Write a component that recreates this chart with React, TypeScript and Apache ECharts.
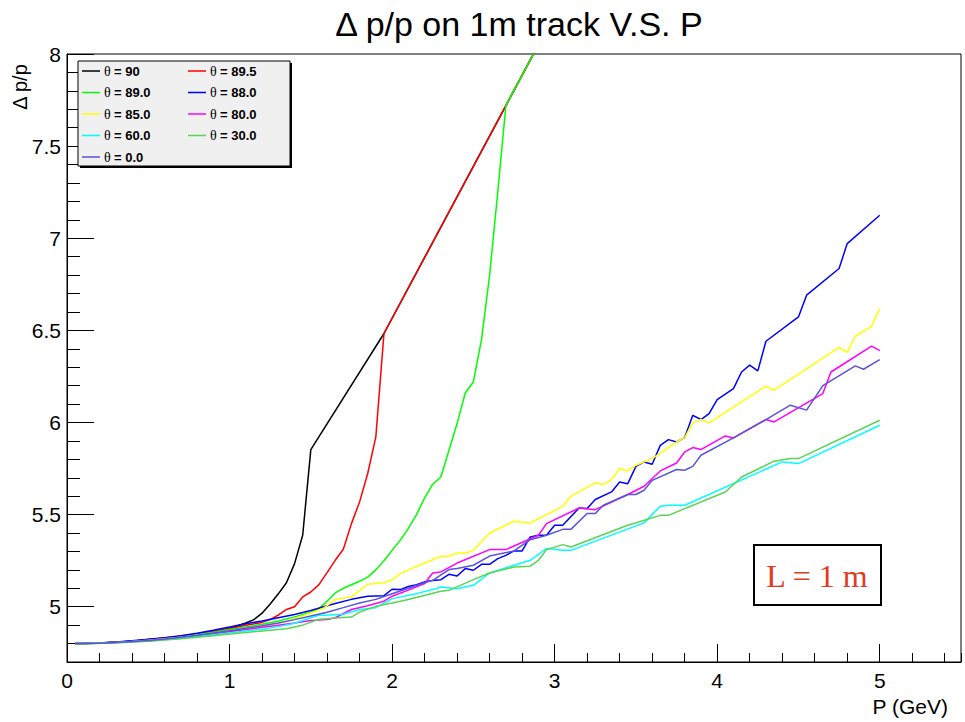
import React, { useEffect, useRef } from "react";
import * as echarts from "echarts";

// ---- data (P in GeV, Δp/p) ----
const theta90: [number, number][] = [
  [0.05, 4.8], [0.1, 4.8], [0.2, 4.803], [0.3, 4.807], [0.4, 4.813], [0.5, 4.822], [0.6, 4.83], [0.7, 4.84],
  [0.8, 4.852], [0.9, 4.866], [1.0, 4.882], [1.1, 4.912], [1.15, 4.93], [1.2, 4.965], [1.25, 5.015], [1.3, 5.07],
  [1.35, 5.13], [1.4, 5.234], [1.45, 5.388], [1.5, 5.853], [1.95, 6.483], [2.7, 7.72], [2.9, 8.05],
];
const theta895: [number, number][] = [
  [0.05, 4.8], [0.1, 4.8], [0.2, 4.803], [0.3, 4.807], [0.4, 4.813], [0.5, 4.822], [0.6, 4.83], [0.7, 4.84],
  [0.8, 4.852], [0.9, 4.866], [1.0, 4.88], [1.1, 4.9], [1.2, 4.915], [1.25, 4.93], [1.3, 4.955], [1.35, 4.985],
  [1.4, 5.0], [1.45, 5.053], [1.5, 5.08], [1.55, 5.12], [1.6, 5.185], [1.65, 5.252], [1.7, 5.312], [1.75, 5.451],
  [1.8, 5.569], [1.85, 5.723], [1.9, 5.922], [1.95, 6.483], [2.7, 7.72], [2.9, 8.05],
];
const theta89: [number, number][] = [
  [0.05, 4.8], [0.1, 4.8], [0.2, 4.803], [0.3, 4.807], [0.4, 4.812], [0.5, 4.82], [0.6, 4.828], [0.7, 4.838],
  [0.8, 4.85], [0.9, 4.862], [1.0, 4.876], [1.1, 4.89], [1.2, 4.905], [1.3, 4.922], [1.4, 4.945], [1.5, 4.97],
  [1.55, 4.99], [1.6, 5.03], [1.65, 5.075], [1.7, 5.1], [1.8, 5.138], [1.85, 5.161], [1.9, 5.2], [1.95, 5.25],
  [2.0, 5.306], [2.05, 5.36], [2.1, 5.425], [2.15, 5.5], [2.2, 5.59], [2.25, 5.665], [2.3, 5.704], [2.35, 5.849],
  [2.4, 5.994], [2.45, 6.16], [2.5, 6.22], [2.55, 6.45], [2.6, 6.8], [2.65, 7.25], [2.7, 7.72], [2.9, 8.05],
];
const theta88: [number, number][] = [
  [0.05, 4.8], [0.1, 4.8], [0.2, 4.803], [0.3, 4.808], [0.4, 4.815], [0.5, 4.823], [0.6, 4.832], [0.7, 4.843],
  [0.8, 4.856], [0.9, 4.872], [1.0, 4.89], [1.1, 4.908], [1.2, 4.922], [1.3, 4.94], [1.4, 4.958], [1.5, 4.98],
  [1.6, 5.005], [1.65, 5.017], [1.75, 5.04], [1.85, 5.057], [1.95, 5.06], [2.0, 5.095], [2.05, 5.093], [2.1, 5.11],
  [2.15, 5.12], [2.2, 5.135], [2.25, 5.143], [2.3, 5.147], [2.35, 5.176], [2.4, 5.167], [2.45, 5.207], [2.5, 5.198],
  [2.55, 5.23], [2.6, 5.23], [2.65, 5.261], [2.7, 5.279], [2.75, 5.303], [2.8, 5.303], [2.85, 5.379], [2.9, 5.388],
  [2.95, 5.388], [3.0, 5.442], [3.05, 5.442], [3.15, 5.536], [3.2, 5.533], [3.25, 5.582], [3.35, 5.623], [3.4, 5.677],
  [3.45, 5.668], [3.5, 5.762], [3.55, 5.786], [3.6, 5.773], [3.65, 5.876], [3.7, 5.907], [3.75, 5.894], [3.8, 5.918],
  [3.85, 6.039], [3.9, 6.016], [3.95, 6.048], [4.0, 6.124], [4.1, 6.184], [4.15, 6.274], [4.2, 6.311], [4.25, 6.28],
  [4.3, 6.441], [4.5, 6.573], [4.55, 6.691], [4.75, 6.836], [4.8, 6.971], [5.0, 7.125],
];
const theta85: [number, number][] = [
  [0.05, 4.8], [0.1, 4.8], [0.2, 4.802], [0.3, 4.806], [0.4, 4.811], [0.5, 4.818], [0.6, 4.826], [0.7, 4.835],
  [0.8, 4.845], [0.9, 4.856], [1.0, 4.868], [1.1, 4.88], [1.2, 4.895], [1.3, 4.91], [1.37, 4.926], [1.5, 4.966],
  [1.575, 4.99], [1.65, 5.039], [1.75, 5.053], [1.85, 5.122], [1.95, 5.13], [2.0, 5.145], [2.05, 5.18], [2.1, 5.2],
  [2.2, 5.237], [2.3, 5.274], [2.35, 5.274], [2.4, 5.292], [2.45, 5.292], [2.5, 5.306], [2.6, 5.4], [2.75, 5.464],
  [2.85, 5.455], [3.05, 5.545], [3.1, 5.6], [3.25, 5.672], [3.3, 5.663], [3.35, 5.69], [3.4, 5.75], [3.45, 5.737],
  [3.5, 5.768], [3.6, 5.804], [3.75, 5.894], [3.8, 5.918], [3.85, 5.998], [3.9, 6.016], [3.95, 5.998], [4.3, 6.197],
  [4.35, 6.175], [4.75, 6.407], [4.8, 6.381], [4.85, 6.468], [4.95, 6.522], [5.0, 6.619],
];
const theta80: [number, number][] = [
  [0.05, 4.8], [0.1, 4.8], [0.2, 4.802], [0.3, 4.806], [0.4, 4.81], [0.5, 4.816], [0.6, 4.823], [0.7, 4.832],
  [0.8, 4.842], [0.9, 4.852], [1.0, 4.864], [1.1, 4.876], [1.2, 4.888], [1.3, 4.9], [1.4, 4.912], [1.5, 4.925],
  [1.6, 4.93], [1.65, 4.94], [1.75, 4.985], [1.85, 5.005], [1.95, 5.03], [2.0, 5.057], [2.1, 5.09], [2.2, 5.126],
  [2.25, 5.183], [2.3, 5.189], [2.4, 5.237], [2.6, 5.31], [2.7, 5.31], [2.9, 5.388], [2.95, 5.451], [3.15, 5.536],
  [3.25, 5.527], [3.45, 5.609], [3.55, 5.654], [3.65, 5.737], [3.75, 5.78], [3.8, 5.84], [3.85, 5.864], [3.9, 5.853],
  [4.05, 5.927], [4.1, 5.916], [4.3, 6.016], [4.35, 6.003], [4.65, 6.157], [4.7, 6.274], [4.95, 6.414], [5.0, 6.39],
];
const theta60: [number, number][] = [
  [0.05, 4.8], [0.1, 4.8], [0.2, 4.802], [0.3, 4.805], [0.4, 4.81], [0.5, 4.815], [0.6, 4.821], [0.7, 4.829],
  [0.8, 4.838], [0.9, 4.848], [1.0, 4.858], [1.1, 4.868], [1.2, 4.878], [1.3, 4.892], [1.4, 4.91], [1.5, 4.94],
  [1.55, 4.953], [1.7, 4.959], [1.8, 4.985], [1.9, 4.995], [2.0, 5.044], [2.15, 5.071], [2.25, 5.093], [2.3, 5.107],
  [2.4, 5.098], [2.5, 5.116], [2.6, 5.183], [2.75, 5.225], [2.85, 5.252], [2.95, 5.316], [3.05, 5.306], [3.1, 5.306],
  [3.55, 5.455], [3.65, 5.545], [3.7, 5.551], [3.8, 5.551], [4.4, 5.786], [4.5, 5.777], [5.0, 5.985],
];
const theta30: [number, number][] = [
  [0.05, 4.8], [0.1, 4.8], [0.2, 4.802], [0.3, 4.804], [0.4, 4.808], [0.5, 4.813], [0.6, 4.819], [0.7, 4.826],
  [0.8, 4.834], [0.9, 4.843], [1.0, 4.852], [1.1, 4.86], [1.2, 4.868], [1.3, 4.876], [1.35, 4.881], [1.45, 4.9],
  [1.55, 4.932], [1.65, 4.939], [1.75, 4.944], [1.8, 4.971], [1.9, 5.002], [2.0, 5.02], [2.1, 5.039], [2.3, 5.084],
  [2.35, 5.089], [2.5, 5.147], [2.6, 5.183], [2.75, 5.216], [2.85, 5.22], [2.9, 5.252], [2.95, 5.31], [3.05, 5.337],
  [3.1, 5.324], [3.45, 5.442], [3.65, 5.496], [3.7, 5.496], [4.05, 5.623], [4.15, 5.704], [4.35, 5.79], [4.45, 5.804],
  [4.5, 5.804], [5.0, 6.012],
];
const theta0: [number, number][] = [
  [0.05, 4.8], [0.1, 4.8], [0.2, 4.802], [0.3, 4.806], [0.4, 4.811], [0.5, 4.817], [0.6, 4.825], [0.7, 4.834],
  [0.8, 4.845], [0.9, 4.857], [1.0, 4.87], [1.1, 4.883], [1.2, 4.897], [1.3, 4.912], [1.4, 4.93], [1.5, 4.95],
  [1.6, 4.97], [1.7, 4.995], [1.8, 5.02], [1.9, 5.04], [2.0, 5.07], [2.1, 5.1], [2.2, 5.13], [2.25, 5.143],
  [2.35, 5.202], [2.4, 5.207], [2.5, 5.225], [2.6, 5.275], [2.75, 5.303], [2.85, 5.364], [2.95, 5.388], [3.05, 5.42],
  [3.1, 5.42], [3.2, 5.506], [3.25, 5.506], [3.3, 5.551], [3.45, 5.609], [3.5, 5.609], [3.55, 5.632], [3.6, 5.686],
  [3.75, 5.745], [3.8, 5.741], [3.85, 5.762], [3.9, 5.822], [4.1, 5.916], [4.3, 6.016], [4.45, 6.094], [4.55, 6.067],
  [4.65, 6.2], [4.85, 6.307], [4.9, 6.289], [5.0, 6.341],
];

const seriesData = [theta90, theta895, theta89, theta88, theta85, theta80, theta60, theta30, theta0];
const thetaLabels = ["90", "89.5", "89.0", "88.0", "85.0", "80.0", "60.0", "30.0", "0.0"];
const seriesColors = ["#000000", "#ff0000", "#00ff00", "#0000ff", "#ffff00", "#ff00ff", "#00ffff", "#59d454", "#5954d9"];

const xMajorTicks = [0, 1, 2, 3, 4, 5];
const yMajorTicks = [5, 5.5, 6, 6.5, 7, 7.5, 8];

const title = "Δ p/p on 1m track V.S. P";
const xName = "P (GeV)";
const yName = "Δ p/p";
const noteText = "L = 1 m";

const SANS = "'Liberation Sans', Arial, Helvetica, sans-serif";
const SERIF = "'Liberation Serif', 'Times New Roman', serif";

export default function App() {
  const ref = useRef<HTMLDivElement>(null);
  useEffect(() => {
    if (!ref.current) return;
    const chart = echarts.init(ref.current, null, { renderer: "svg" });

    const gridL = 67, gridR = 4, gridT = 54, gridB = 60;

    const legendX = 78, legendY = 61, legendW = 212, legendH = 105;
    const legendEls: any[] = [
      { type: "rect", shape: { x: legendX + 2, y: legendY + 2, width: legendW, height: legendH }, style: { fill: "#000" }, z: 100 },
      { type: "rect", shape: { x: legendX, y: legendY, width: legendW, height: legendH }, style: { fill: "#f0f0f0", stroke: "#000", lineWidth: 1 }, z: 101 },
    ];
    thetaLabels.forEach((lab, i) => {
      const col = i % 2;
      const row = Math.floor(i / 2);
      const lx = col === 0 ? 82 : 188;
      const cy = 71 + row * 21.5;
      legendEls.push({
        type: "line",
        shape: { x1: lx, y1: cy, x2: lx + 18, y2: cy },
        style: { stroke: seriesColors[i], lineWidth: 1.5 },
        z: 102,
      });
      legendEls.push({
        type: "text",
        x: lx + 22,
        y: cy,
        style: {
          text: `{t|θ} {b|= ${lab}}`,
          verticalAlign: "middle",
          align: "left",
          rich: {
            t: { fontFamily: SERIF, fontSize: 14, fill: "#000" },
            b: { fontFamily: SANS, fontSize: 13, fontWeight: "bold", fill: "#000" },
          },
        },
        z: 102,
      });
    });

    const option: any = {
      animation: false,
      backgroundColor: "#ffffff",
      title: {
        text: title,
        left: 514,
        top: 2,
        textAlign: "center",
        textStyle: { fontFamily: SANS, fontSize: 34, fontWeight: "normal", color: "#000" },
      },
      grid: {
        left: gridL, right: gridR, top: gridT, bottom: gridB,
        show: true, borderColor: "#000", borderWidth: 1, backgroundColor: "transparent",
      },
      xAxis: [
        {
          type: "value", min: 0, max: 5.5, interval: 0.2, position: "bottom",
          axisLine: { show: true, lineStyle: { color: "#000", width: 1 } },
          axisTick: { show: true, inside: true, length: 9, lineStyle: { color: "#000" } },
          axisLabel: { show: false },
          splitLine: { show: false },
        },
        {
          type: "value", min: 0, max: 5.5, interval: 1, position: "bottom",
          name: xName, nameLocation: "end", nameGap: 0,
          nameTextStyle: { fontFamily: SANS, fontSize: 21, color: "#000", align: "right", verticalAlign: "top", padding: [34, 13, 0, 0] },
          axisLine: { show: false },
          axisTick: { show: true, inside: true, length: 18, customValues: xMajorTicks, lineStyle: { color: "#000" } },
          axisLabel: { show: true, customValues: xMajorTicks, margin: 8, fontFamily: SANS, fontSize: 21, color: "#000" },
          splitLine: { show: false },
        },
      ],
      yAxis: [
        {
          type: "value", min: 4.7, max: 8, interval: 0.1, position: "left",
          axisLine: { show: true, lineStyle: { color: "#000", width: 1 } },
          axisTick: { show: true, inside: true, length: 13, lineStyle: { color: "#000" } },
          axisLabel: { show: false },
          splitLine: { show: false },
        },
        {
          type: "value", min: 4.7, max: 8, interval: 0.1, position: "left",
          axisLine: { show: false },
          axisTick: { show: true, inside: true, length: 27, customValues: yMajorTicks, lineStyle: { color: "#000" } },
          axisLabel: { show: true, customValues: yMajorTicks, margin: 6, fontFamily: SANS, fontSize: 21, color: "#000", formatter: (v: number) => String(v) },
          splitLine: { show: false },
        },
      ],
      series: seriesData.map((d, i) => ({
        type: "line",
        name: "θ = " + thetaLabels[i],
        data: d,
        xAxisIndex: 0,
        yAxisIndex: 0,
        showSymbol: false,
        symbol: "none",
        clip: true,
        lineStyle: { color: seriesColors[i], width: 1.5 },
        itemStyle: { color: seriesColors[i] },
        z: 2 + i,
      })),
      graphic: [
        {
          type: "text",
          x: 20,
          y: 87,
          rotation: Math.PI / 2,
          style: { text: yName, fontFamily: SANS, fontSize: 20, fill: "#000", align: "center", verticalAlign: "middle" },
        },
        ...legendEls,
        { type: "rect", shape: { x: 754, y: 545, width: 127, height: 60 }, style: { fill: "#fff", stroke: "#000", lineWidth: 2 }, z: 100 },
        {
          type: "text", x: 817, y: 576, z: 101,
          style: { text: noteText, fontFamily: SERIF, fontSize: 32, fill: "#e23a1c", align: "center", verticalAlign: "middle" },
        },
      ],
    };
    chart.setOption(option);
    return () => chart.dispose();
  }, []);
  return <div ref={ref} style={{ position: "fixed", left: 0, top: 0, width: 965, height: 722 }} />;
}
